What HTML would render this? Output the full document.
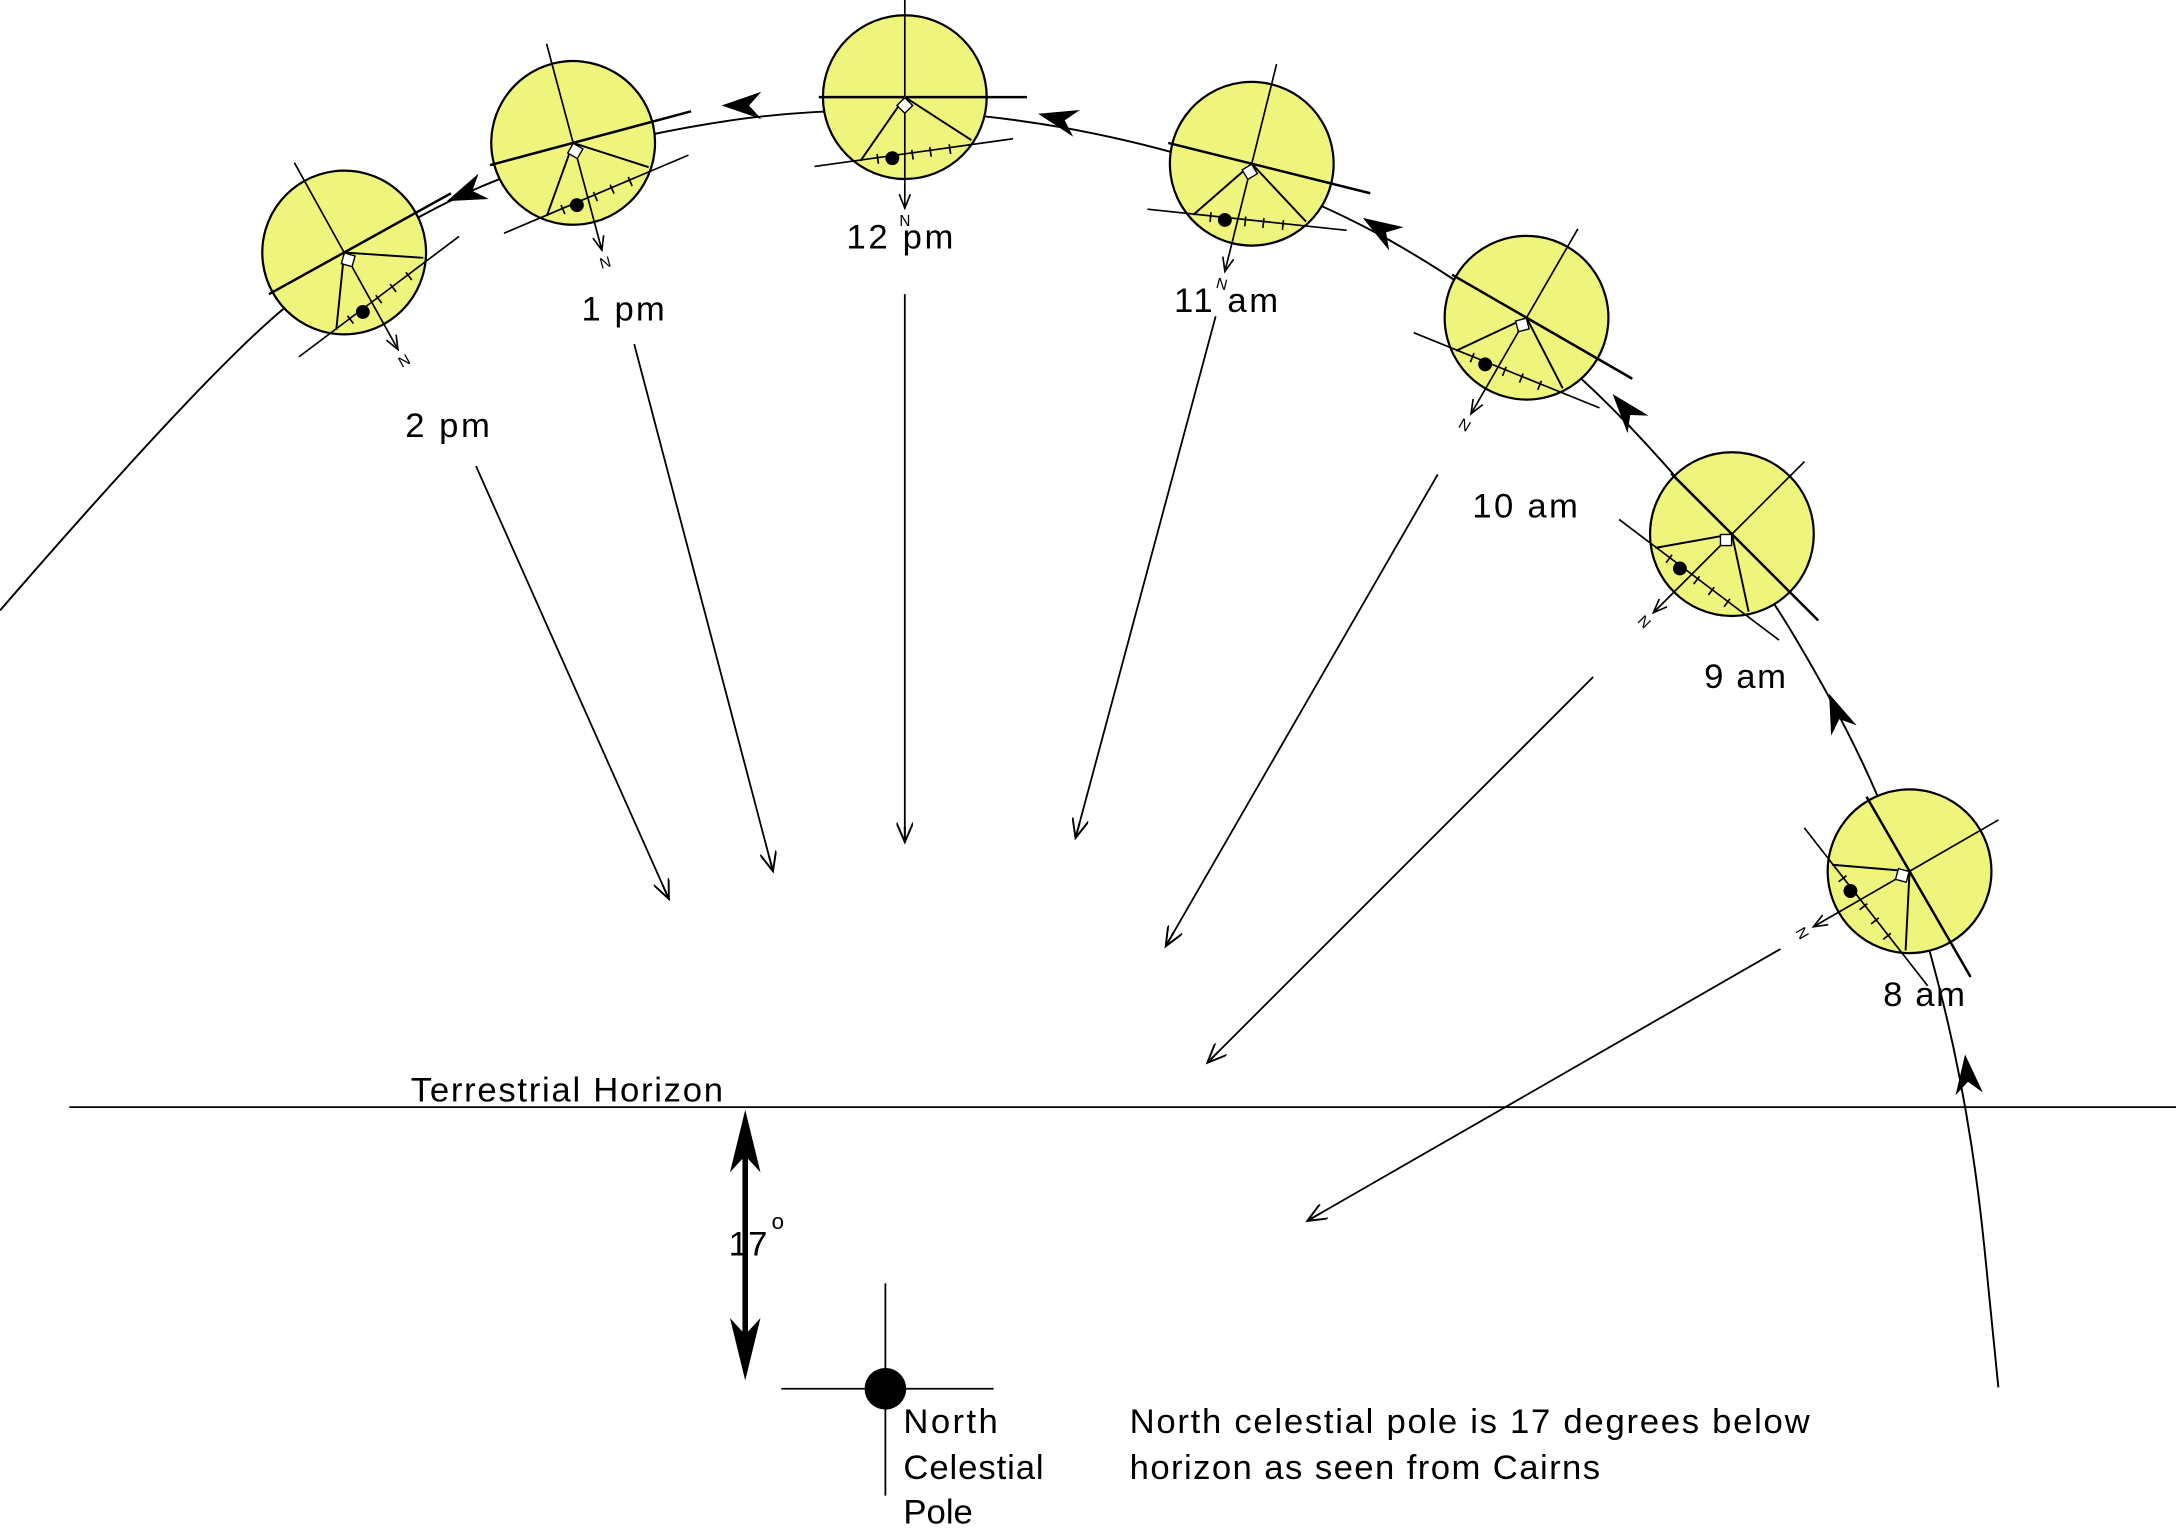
<!DOCTYPE html>
<html><head><meta charset="utf-8"><style>
html,body{margin:0;padding:0;background:#fff;}
svg{display:block;}
text{font-family:"Liberation Sans",sans-serif;fill:#000;}
</style></head><body>
<svg width="2176" height="1540" viewBox="0 0 1568 1110" preserveAspectRatio="none" xmlns="http://www.w3.org/2000/svg">
<defs>
<marker id="oa" markerWidth="16" markerHeight="12" refX="14" refY="6" orient="auto" markerUnits="userSpaceOnUse">
<path d="M0,0 L14,6 L0,12 M14,6 L3,6" fill="none" stroke="#000" stroke-width="1.4"/>
</marker>
<g id="sun">
<circle r="59" fill="#eef47c" stroke="#000" stroke-width="1.6"/>
<line x1="0" y1="-74" x2="0" y2="0" stroke="#000" stroke-width="1.2"/>
<line x1="-62" y1="0" x2="88" y2="0" stroke="#000" stroke-width="1.8"/>
<line x1="0" y1="0" x2="-32" y2="46" stroke="#000" stroke-width="1.4"/>
<line x1="0" y1="0" x2="48" y2="31" stroke="#000" stroke-width="1.4"/>
<line x1="-65" y1="50" x2="78" y2="30" stroke="#000" stroke-width="1.2"/>
<g stroke="#000" stroke-width="1.2">
<line x1="-20" y1="41" x2="-19" y2="48"/><line x1="5" y1="38" x2="6" y2="45"/>
<line x1="18" y1="36" x2="19" y2="43"/><line x1="32" y1="34" x2="33" y2="41"/>
</g>
<circle cx="-9" cy="44" r="5" fill="#000"/>
<line x1="0" y1="0" x2="0" y2="80" stroke="#000" stroke-width="1.2"/>
<path d="M-4,70 L0,80 L4,70" fill="none" stroke="#000" stroke-width="1.2"/>
<rect x="-4" y="2" width="8" height="8" transform="rotate(45 0 6)" fill="#fff" stroke="#000" stroke-width="1"/>
<text x="0" y="93" font-size="11" text-anchor="middle">N</text>
</g>
</defs>

<path d="M0,440 Q130,290 189,236 Q248,182 330,142 Q413,103 532,86 Q652,70 777,94 Q902,118 1001,173 Q1100,229 1174,307 Q1248,385 1289,452 Q1330,520 1353,574 Q1376,628 1398,714 Q1420,800 1430,900 Q1440,1000 1440,1000" fill="none" stroke="#000" stroke-width="1.4"/>

<g fill="#000">
<path d="M0,0 L-9,26 L0,18 L9,26 Z" transform="translate(1416,760) rotate(-6) scale(1.1)"/>
<path d="M0,0 L-9,26 L0,18 L9,26 Z" transform="translate(1318,500) rotate(-22) scale(1.1)"/>
<path d="M0,0 L-9,26 L0,18 L9,26 Z" transform="translate(1162,284) rotate(-40) scale(1.1)"/>
<path d="M0,0 L-9,26 L0,18 L9,26 Z" transform="translate(982,157) rotate(-58) scale(1.1)"/>
<path d="M0,0 L-9,26 L0,18 L9,26 Z" transform="translate(748,82) rotate(-76) scale(1.1)"/>
<path d="M0,0 L-9,26 L0,18 L9,26 Z" transform="translate(520,76) rotate(-90) scale(1.1)"/>
<path d="M0,0 L-9,26 L0,18 L9,26 Z" transform="translate(322,145) rotate(-112) scale(1.1)"/>
</g>

<use href="#sun" transform="translate(248,182) rotate(-29)"/>
<use href="#sun" transform="translate(413,103) rotate(-15)"/>
<use href="#sun" transform="translate(652,70)"/>
<use href="#sun" transform="translate(902,118) rotate(14)"/>
<use href="#sun" transform="translate(1100,229) rotate(30)"/>
<use href="#sun" transform="translate(1248,385) rotate(45)"/>
<use href="#sun" transform="translate(1376,628) rotate(60)"/>

<g stroke="#000" stroke-width="1.3" fill="none" marker-end="url(#oa)">
<line x1="343" y1="336" x2="482" y2="648"/>
<line x1="457" y1="248" x2="557" y2="628"/>
<line x1="652" y1="212" x2="652" y2="607"/>
<line x1="876" y1="228" x2="775" y2="604"/>
<line x1="1036" y1="342" x2="840" y2="682"/>
<line x1="1148" y1="488" x2="870" y2="766"/>
<line x1="1283" y1="684" x2="942" y2="880"/>
</g>

<g font-size="25" lengthAdjust="spacingAndGlyphs">
<text x="292" y="315" textLength="61">2 pm</text>
<text x="419" y="231" textLength="60">1 pm</text>
<text x="610" y="179" textLength="77">12 pm</text>
<text x="846" y="225" textLength="75">11 am</text>
<text x="1061" y="373" textLength="76">10 am</text>
<text x="1228" y="496" textLength="59">9 am</text>
<text x="1357" y="725" textLength="59">8 am</text>
<text x="296" y="794" textLength="225">Terrestrial Horizon</text>
<text x="525" y="905" textLength="28">17</text>
<text x="556" y="886" font-size="16">o</text>
<text x="651" y="1033" textLength="68">North</text>
<text x="651" y="1066" textLength="101">Celestial</text>
<text x="651" y="1098" textLength="50">Pole</text>
<text x="814" y="1033" textLength="490">North celestial pole is 17 degrees below</text>
<text x="814" y="1066" textLength="339">horizon as seen from Cairns</text>
</g>

<line x1="50" y1="798" x2="1568" y2="798" stroke="#000" stroke-width="1.3"/>

<line x1="537" y1="815" x2="537" y2="978" stroke="#000" stroke-width="4"/>
<path d="M537,800 L526,845 L537,833 L548,845 Z" fill="#000"/>
<path d="M537,995 L526,950 L537,962 L548,950 Z" fill="#000"/>

<line x1="638" y1="925" x2="638" y2="1078" stroke="#000" stroke-width="1.3"/>
<line x1="563" y1="1001" x2="716" y2="1001" stroke="#000" stroke-width="1.3"/>
<circle cx="638" cy="1001" r="15" fill="#000"/>
</svg>
</body></html>
